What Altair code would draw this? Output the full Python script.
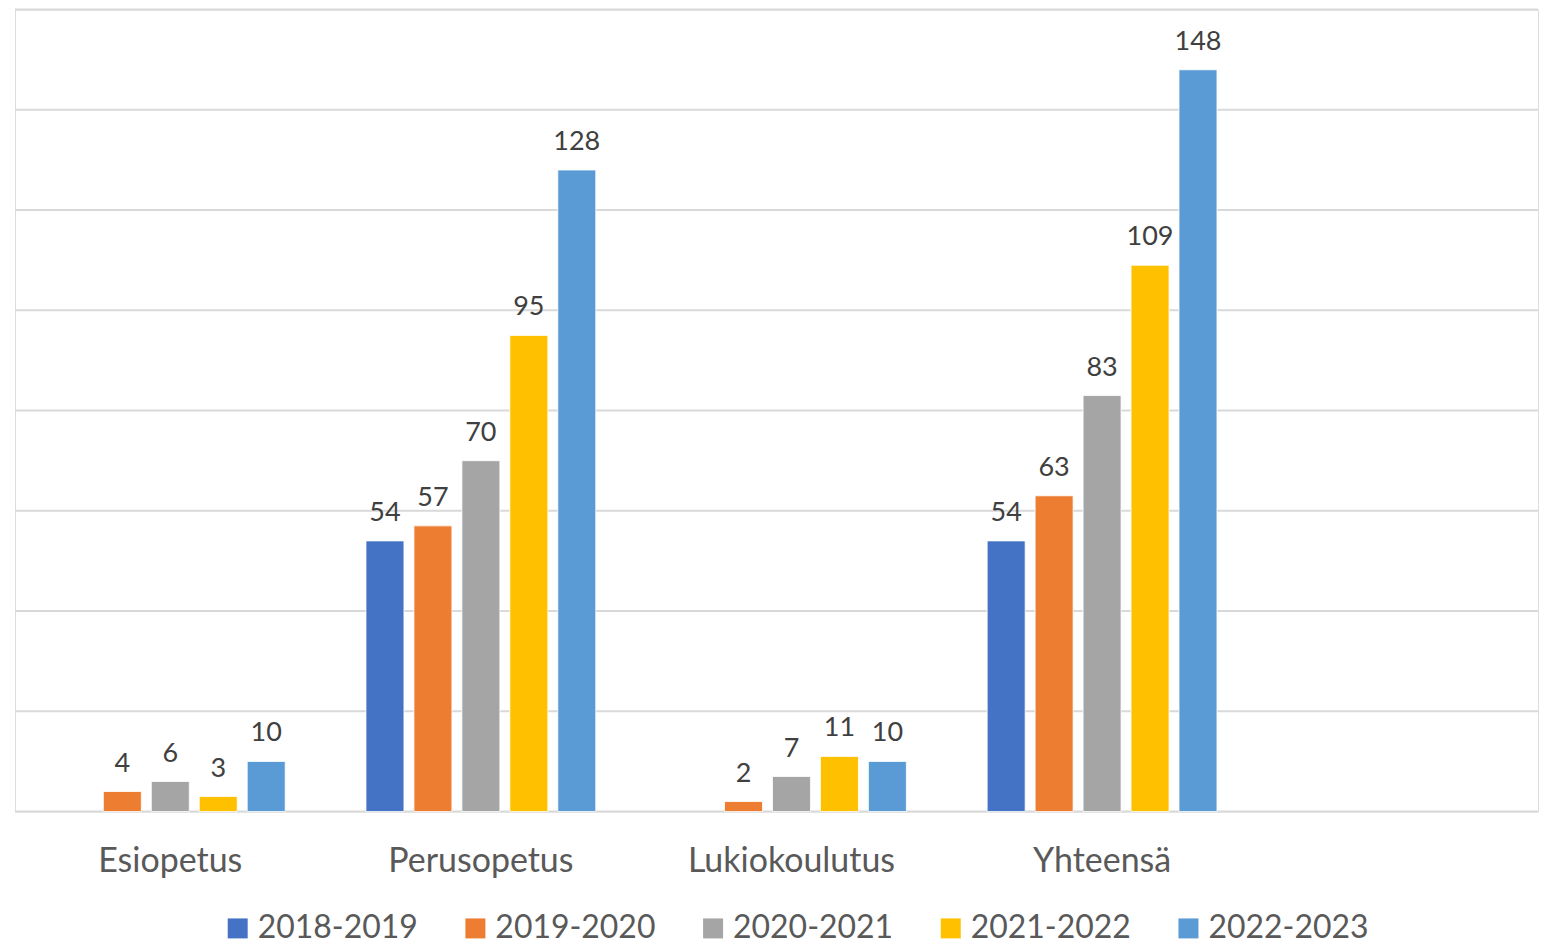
import altair as alt
import pandas as pd

categories = ["Esiopetus", "Perusopetus", "Lukiokoulutus", "Yhteensä"]
series = ["2018-2019", "2019-2020", "2020-2021", "2021-2022", "2022-2023"]
colors = ["#4472C4", "#ED7D31", "#A5A5A5", "#FFC000", "#5B9BD5"]

values_2018_2019 = [None, 54, None, 54]
values_2019_2020 = [4, 57, 2, 63]
values_2020_2021 = [6, 70, 7, 83]
values_2021_2022 = [3, 95, 11, 109]
values_2022_2023 = [10, 128, 10, 148]

grid_values = [0, 20, 40, 60, 80, 100, 120, 140, 160]

all_values = [values_2018_2019, values_2019_2020, values_2020_2021,
              values_2021_2022, values_2022_2023]

rows = []
for s, vals in zip(series, all_values):
    for c, v in zip(categories, vals):
        if v is not None:
            rows.append({"Luokka": c, "Vuosi": s, "Arvo": v})
df = pd.DataFrame(rows)
grid_df = pd.DataFrame({"Arvo": grid_values})

FONT = "Lato"
STEP = 311
W = 1525
H = 803

y_scale = alt.Scale(domain=[0, 160], nice=False)

x_enc = alt.X("Luokka:N", sort=categories,
              scale=alt.Scale(domain=categories, range=[0, STEP * 4],
                              paddingInner=0.228, paddingOuter=0.114),
              axis=alt.Axis(title=None, labelAngle=0, domain=False, ticks=False,
                            labelFontSize=34, labelColor="#595959",
                            labelPadding=33, labelFont=FONT, labelLimit=1000))
xo_enc = alt.XOffset("Vuosi:N", sort=series,
                     scale=alt.Scale(domain=series, paddingInner=0.208,
                                     paddingOuter=0.104))
y_enc = alt.Y("Arvo:Q", scale=y_scale, axis=None)

grid = alt.Chart(grid_df).mark_rule(color="#d9d9d9", strokeWidth=2).encode(
    y=alt.Y("Arvo:Q", scale=y_scale, axis=None),
    x=alt.value(0),
    x2=alt.value(W),
)

base = alt.Chart(df)

bars = base.mark_bar(stroke="white", strokeWidth=0.8).encode(
    x=x_enc,
    xOffset=xo_enc,
    y=y_enc,
    color=alt.Color("Vuosi:N", sort=series,
                    scale=alt.Scale(domain=series, range=colors),
                    legend=alt.Legend(title=None, orient="none", direction="horizontal",
                                      columns=5, legendX=207, legendY=904,
                                      symbolType="square", symbolSize=400,
                                      symbolStrokeWidth=0, labelFontSize=32,
                                      labelFont=FONT, labelColor="#595959",
                                      labelOffset=4, columnPadding=41,
                                      labelLimit=400)),
)

labels = base.mark_text(baseline="alphabetic", dy=-20, fontSize=27,
                        font=FONT, color="#404040").encode(
    x=x_enc,
    xOffset=xo_enc,
    y=y_enc,
    text=alt.Text("Arvo:Q"),
)

chart = (grid + bars + labels).properties(
    width=W, height=H,
    padding={"left": 6, "top": 0, "right": 0, "bottom": 0},
).configure_view(stroke=None).configure(font=FONT)

chart.save("out.html", embed_options={"renderer": "svg", "actions": False})
